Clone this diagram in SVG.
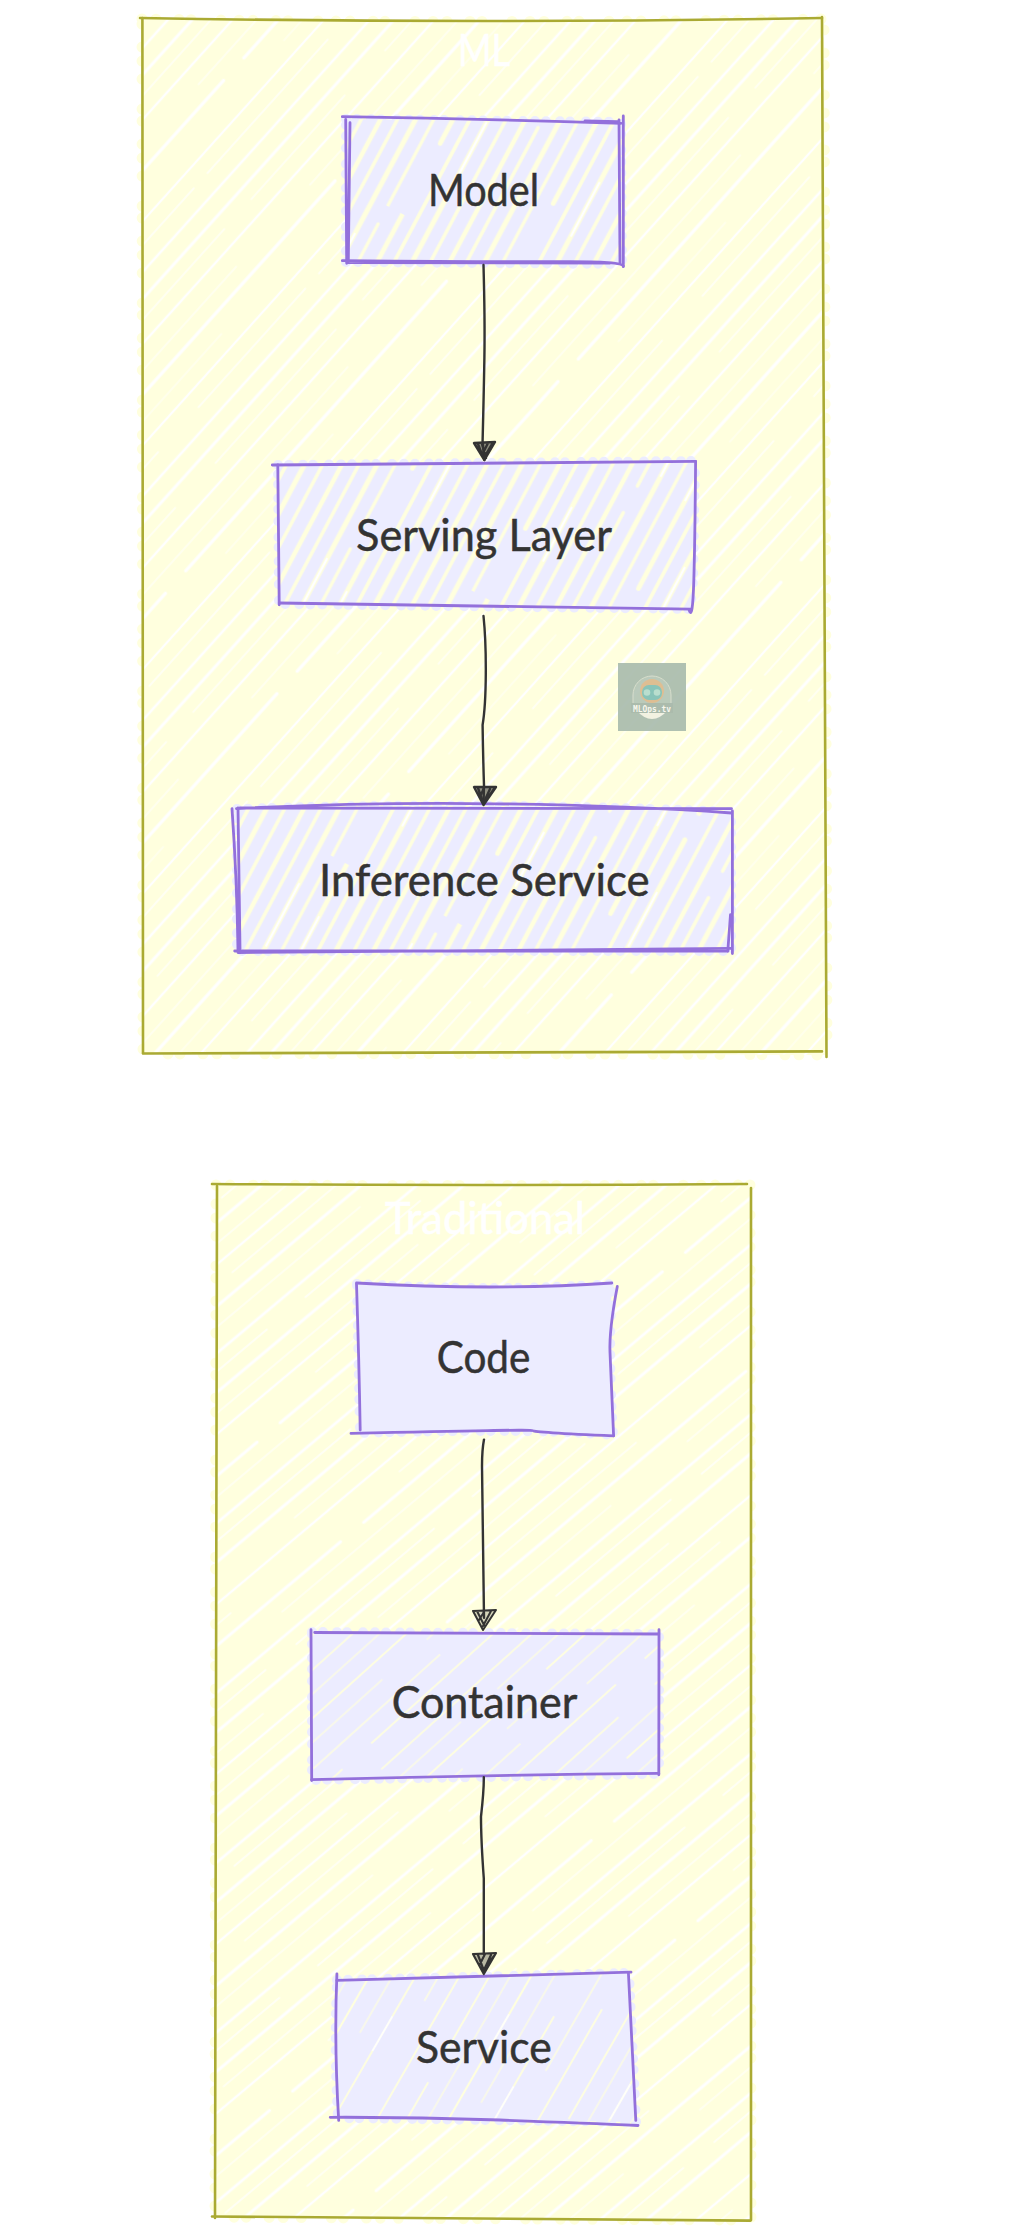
<svg xmlns="http://www.w3.org/2000/svg" width="1028" height="2238" viewBox="0 0 1028 2238">
<defs>
<style>
text{font-family:"Lato","Noto Sans","Liberation Sans",sans-serif;text-anchor:middle;font-size:45px;fill:#333;stroke:#333;stroke-width:.5px}
text.cl{fill:#fff;stroke:#fff}
.cs{fill:none;stroke:#aaaa33;stroke-width:2.6;stroke-linecap:round}
.ns{fill:none;stroke:#9370db;stroke-width:2.8;stroke-linecap:round}
.cb{fill:#ffffde}
.cd{fill:none;stroke:#ffffde;stroke-width:11;stroke-linecap:round;stroke-dasharray:0 14 0 23 0 12 0 30 0 18}
.nb{fill:#ececff}
.nd{fill:none;stroke:#ececff;stroke-width:10;stroke-linecap:round;stroke-dasharray:0 11 0 14 0 10 0 16 0 12}
.e{fill:none;stroke:#333;stroke-width:2.4;stroke-linecap:round}
.a{fill:#333;fill-opacity:.55;stroke:#333;stroke-width:2.4;stroke-linecap:round;stroke-linejoin:round}
</style>
<pattern id="hC" width="150" height="420" patternUnits="userSpaceOnUse" patternTransform="rotate(42)">
<g fill="none" stroke="#fff" stroke-linecap="round">
<path d="M6 0V420" stroke-width="3"/><path d="M20 20V200M20 260V400" stroke-width="1.5" opacity=".75"/>
<path d="M36 0V420" stroke-width="2.4"/><path d="M54 40V350" stroke-width="1.4" opacity=".7"/>
<path d="M70 0V300M70 330V420" stroke-width="3.2"/><path d="M88 100V260" stroke-width="1.3" opacity=".6"/>
<path d="M104 0V420" stroke-width="2.2"/><path d="M120 10V170M120 230V410" stroke-width="1.6" opacity=".8"/>
<path d="M138 0V420" stroke-width="2.6"/>
</g></pattern>
<pattern id="hT" width="130" height="420" patternUnits="userSpaceOnUse" patternTransform="rotate(50)">
<g fill="none" stroke="#fff" stroke-linecap="round">
<path d="M6 0V420" stroke-width="2.8"/><path d="M20 30V180M20 230V410" stroke-width="1.6" opacity=".85"/>
<path d="M36 0V420" stroke-width="3"/><path d="M52 60V330" stroke-width="1.5" opacity=".75"/>
<path d="M68 0V420" stroke-width="2.4"/><path d="M84 20V220" stroke-width="1.5" opacity=".8"/>
<path d="M100 0V280M100 310V420" stroke-width="3"/><path d="M116 80V400" stroke-width="1.4" opacity=".75"/>
</g></pattern>
<pattern id="hN" width="128" height="300" patternUnits="userSpaceOnUse" patternTransform="rotate(28)">
<g fill="none" stroke="#ffffde" stroke-linecap="round">
<path d="M8 0V300" stroke-width="4.6"/><path d="M23 0V130M23 160V300" stroke-width="3.4"/>
<path d="M39 0V300" stroke-width="5"/><path d="M55 20V300" stroke-width="3.2"/>
<path d="M72 0V220" stroke-width="4.8"/><path d="M87 0V300" stroke-width="3.6"/>
<path d="M103 0V90M103 120V300" stroke-width="5"/><path d="M119 0V300" stroke-width="3.4"/>
</g>
<g fill="none" stroke="#fff" stroke-linecap="round">
<path d="M39 40V110M103 180V240M72 60V120" stroke-width="2.2"/>
</g></pattern>
<pattern id="hK" width="120" height="260" patternUnits="userSpaceOnUse" patternTransform="rotate(48)">
<g fill="none" stroke="#ffffde" stroke-linecap="round">
<path d="M10 0V120M10 170V260" stroke-width="1.6"/><path d="M28 30V240" stroke-width="1.2"/>
<path d="M46 0V190" stroke-width="1.8"/><path d="M64 60V260" stroke-width="1.2"/><path d="M84 0V170" stroke-width="1.4"/><path d="M104 0V110M104 150V260" stroke-width="1.7"/>
</g></pattern>
<pattern id="hS" width="140" height="280" patternUnits="userSpaceOnUse" patternTransform="rotate(30)">
<g fill="none" stroke="#ffffde" stroke-linecap="round">
<path d="M12 0V150M12 190V280" stroke-width="1.8"/><path d="M30 40V230" stroke-width="1.2"/>
<path d="M48 0V280" stroke-width="2.1"/><path d="M68 20V180" stroke-width="1.2"/><path d="M88 70V280" stroke-width="1.8"/><path d="M108 0V120" stroke-width="1.4"/><path d="M126 40V260" stroke-width="1.8"/>
</g>
<path d="M48 90V130M88 150V190" stroke="#fff" stroke-width="1.6" fill="none"/></pattern>
</defs>
<rect width="1028" height="2238" fill="#fff"/>

<g id="cluster-ML">
<path class="cd" d="M142 19Q484 24 824 19L827 1055Q484 1053 143 1054Z"/>
<path class="cb" d="M142 19Q484 24 824 19L827 1055Q484 1053 143 1054Z"/>
<path d="M142 19Q484 24 824 19L827 1055Q484 1053 143 1054Z" fill="url(#hC)"/>
<path class="cs" d="M140 18Q484 24 822 18"/>
<path class="cs" d="M142.4 18L143 1053"/>
<path class="cs" d="M822 17Q825 500 826.5 1057"/>
<path class="cs" d="M143 1053.5Q480 1053 822 1051.4"/>
<text class="cl" x="484" y="66" textLength="52" lengthAdjust="spacingAndGlyphs">ML</text>
</g>

<g id="cluster-Traditional">
<path class="cd" d="M216 1185Q484 1186 750 1185L751 2220Q484 2219 215 2217Z"/>
<path class="cb" d="M216 1185Q484 1186 750 1185L751 2220Q484 2219 215 2217Z"/>
<path d="M216 1185Q484 1186 750 1185L751 2220Q484 2219 215 2217Z" fill="url(#hT)"/>
<path class="cs" d="M212 1184Q484 1186 747 1184"/>
<path class="cs" d="M217 1186L215 2218"/>
<path class="cs" d="M751 1188L751 2220"/>
<path class="cs" d="M212 2216.5Q484 2219 750.5 2220.6"/>
<text class="cl" x="485" y="1234" textLength="200" lengthAdjust="spacingAndGlyphs">Traditional</text>
</g>

<g id="node-Model">
<path class="nd" d="M346 119L621 122L622 264L346 262Z"/>
<path class="nb" d="M346 119L621 122L622 264L346 262Z"/>
<path d="M346 119L621 122L622 264L346 262Z" fill="url(#hN)"/>
<path class="ns" d="M342.3 116.7Q480 119 621 123.3M585 121L618 121.7"/>
<path class="ns" d="M345.7 119.3L346.7 263.3M350 122.7L348.3 261.7"/>
<path class="ns" d="M623.3 116L623.3 266.7M619 120L620 263"/>
<path class="ns" d="M342.3 260.7Q500 262 561.7 261.7T623.3 266M348 262.5L610 263"/>
<text x="483.5" y="206" textLength="111" lengthAdjust="spacingAndGlyphs">Model</text>
</g>

<g id="node-ServingLayer">
<path class="nd" d="M278 465L695 461L693 581L690 609L279 604Z"/>
<path class="nb" d="M278 465L695 461L693 581L690 609L279 604Z"/>
<path d="M278 465L695 461L693 581L690 609L279 604Z" fill="url(#hN)"/>
<path class="ns" d="M272.3 465L695.6 461.4"/>
<path class="ns" d="M277.8 465L279.2 604.8"/>
<path class="ns" d="M695.6 461.4Q695 540 693.8 580.7T689.2 610"/>
<path class="ns" d="M279.2 603Q483 606 691 609.2"/>
<text x="484" y="551" textLength="255.8" lengthAdjust="spacingAndGlyphs">Serving Layer</text>
</g>

<g id="node-InferenceService">
<path class="nd" d="M237 809Q484 801 731 812L731 951L237 951Z"/>
<path class="nb" d="M237 809Q484 801 731 812L731 951L237 951Z"/>
<path d="M237 809Q484 801 731 812L731 951L237 951Z" fill="url(#hN)"/>
<path class="ns" d="M236.5 808.6Q368 802 497 803.8T731.5 813M240 808L731.5 808.6"/>
<path class="ns" d="M232 808.6Q237 880 238 950.8M238 808L240 949"/>
<path class="ns" d="M732.4 811L732.4 953.6M730.5 914.7L727.8 951"/>
<path class="ns" d="M234.7 951L728 951M238 952.6L731.5 948.4"/>
<text x="484.3" y="895.7" textLength="330.6" lengthAdjust="spacingAndGlyphs">Inference Service</text>
</g>

<g id="node-Code">
<path class="nd" d="M357 1284Q496 1292 612 1284Q608 1352 613 1435Q530 1428 360 1433Z"/>
<path class="nb" d="M357 1284Q496 1292 612 1284Q608 1352 613 1435Q530 1428 360 1433Z"/>
<path class="ns" d="M356.5 1283Q496 1291 611.8 1283"/>
<path class="ns" d="M356.5 1284Q359 1360 360.2 1430"/>
<path class="ns" d="M617.3 1286.4Q609 1330 610 1352.5T613.6 1435.8"/>
<path class="ns" d="M351 1433.4Q533 1429 533 1430.7T613.6 1435.8"/>
<text x="483.6" y="1373" textLength="93.6" lengthAdjust="spacingAndGlyphs">Code</text>
</g>

<g id="node-Container">
<path class="nd" d="M312 1632L659 1634L659 1774L312 1780Z"/>
<path class="nb" d="M312 1632L659 1634L659 1774L312 1780Z"/>
<path d="M312 1632L659 1634L659 1774L312 1780Z" fill="url(#hK)"/>
<path class="ns" d="M314.7 1632.5L658.8 1634"/>
<path class="ns" d="M311 1629.7L311.7 1780.6"/>
<path class="ns" d="M659 1629.7L658.8 1774.8"/>
<path class="ns" d="M311.7 1779.6Q485 1775 658.8 1773.4"/>
<text x="484.5" y="1718" textLength="185.7" lengthAdjust="spacingAndGlyphs">Container</text>
</g>

<g id="node-Service">
<path class="nd" d="M337 1980L629 1973L636 2122L338 2118Q334 2050 337 1980Z"/>
<path class="nb" d="M337 1980L629 1973L636 2122L338 2118Q334 2050 337 1980Z"/>
<path d="M337 1980L629 1973L636 2122L338 2118Q334 2050 337 1980Z" fill="url(#hS)"/>
<path class="ns" d="M336.9 1980.4L631 1972.1"/>
<path class="ns" d="M336.9 1973.9Q334 2043 338.7 2120.4"/>
<path class="ns" d="M628.4 1972.8L635.8 2120.4"/>
<path class="ns" d="M330.2 2117.3Q414 2117 500 2120T638 2125.5"/>
<text x="483.8" y="2063" textLength="135.7" lengthAdjust="spacingAndGlyphs">Service</text>
</g>

<g id="connectors">
<g id="edge-Model-ServingLayer">
<path class="e" d="M483.5 265Q485 320 484.4 357T482.6 441L484.4 460"/>
<path class="a" d="M474 443L495 442L484.4 460ZM478 444L483 457M482 444L486 458M488 443L482 455M492 444L485 456"/>
</g>
<g id="edge-ServingLayer-InferenceService">
<path class="e" d="M483.5 616Q486 640 485.8 673.6T482.6 725Q483 755 484 785.5L483.5 804"/>
<path class="a" d="M474 787L496 787L483.5 805ZM478 788L483 802M484 788L480 797M490 789L484 802M494 789L487 799"/>
</g>
<g id="edge-Code-Container">
<path class="e" d="M484 1439.6Q482 1450 482 1466T484 1617.7"/>
<path class="a" style="stroke-width:2;fill-opacity:.2" d="M473 1611L496 1610L483 1630ZM477 1611L484 1625M484 1612L479 1620M491 1611L483 1626"/>
</g>
<g id="edge-Container-Service">
<path class="e" d="M483.8 1777.2Q484 1790 481 1816.7Q481 1840 483.8 1878.4L483.8 1954"/>
<path class="a" style="stroke-width:2.2;fill-opacity:.35" d="M473 1954L496 1953L483.8 1974ZM478 1955L484 1971M485 1954L480 1964M491 1955L484 1970M494 1956L487 1965"/>
</g>
</g>

<g id="logo" opacity=".92">
<rect x="618" y="663" width="68" height="68" fill="#aabcae"/>
<path d="M633 695A19 19 0 0 1 671 695V708H633Z" fill="#b5c6b8" stroke="#d5dccb" stroke-width="1"/>
<circle cx="652" cy="691" r="12" fill="#dcb98c"/>
<rect x="642" y="685" width="20" height="15" rx="7" fill="#7fbfb6"/>
<circle cx="647" cy="692.5" r="3.3" fill="#b4dccd"/><circle cx="657" cy="692.5" r="3.3" fill="#b4dccd"/>
<path d="M636 710Q652 728 668 710Z" fill="#f1f1e2"/>
<path d="M631 703H673V713H631Z" fill="#a4b6a8"/>
<text x="652" y="712" textLength="38" lengthAdjust="spacingAndGlyphs" style="font-family:'DejaVu Sans Mono','Liberation Mono',monospace;font-size:9px;font-weight:700;fill:#f7f7ee;stroke:none">MLOps.tv</text>
</g>
</svg>
